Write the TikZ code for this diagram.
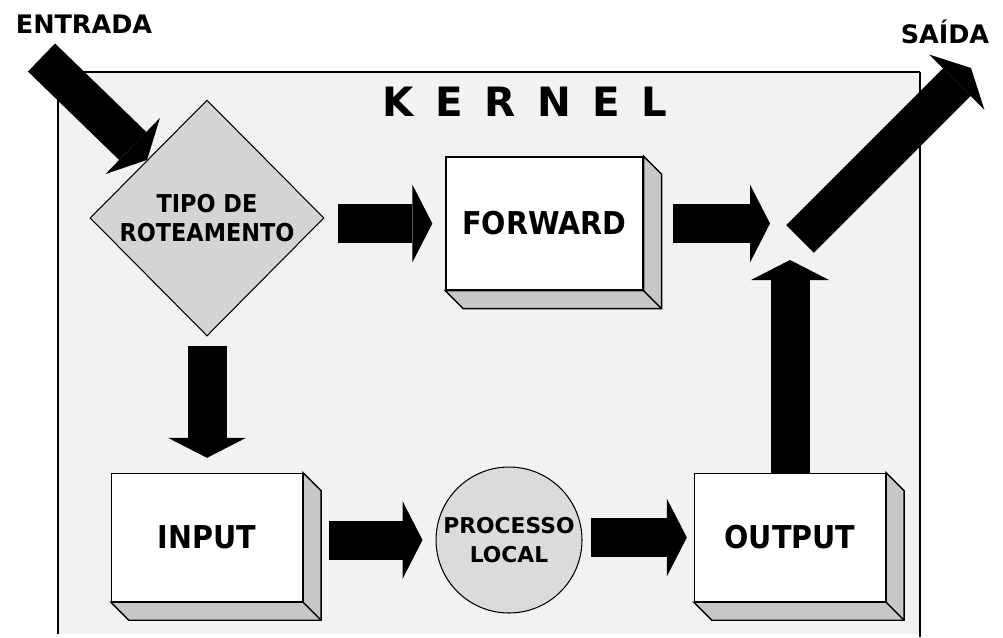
\documentclass[tikz,border=0pt]{standalone}
\usepackage{fontspec}
\setmainfont{DejaVu Sans}
\newfontfamily\estreita[FakeStretch=0.91]{DejaVu Sans}
\usetikzlibrary{shapes.geometric,arrows.meta}
\definecolor{fundo}{gray}{0.95}
\definecolor{losango}{gray}{0.83}
\definecolor{cinzalado}{gray}{0.78}
\definecolor{circulo}{gray}{0.86}
\tikzset{
  seta/.style={line width=0.78cm,-{Triangle[length=0.4cm,width=1.56cm,line width=0pt]}},
  caixa/.style={draw,line width=0.8pt,fill=white,minimum width=3.82cm,minimum height=2.56cm,
    font=\estreita\fontsize{17.9}{21}\selectfont\bfseries},
  face/.style={draw,line width=0.8pt,fill=cinzalado},
  rotulo/.style={font=\fontsize{14.5}{17}\selectfont\bfseries}
}
\begin{document}
\begin{tikzpicture}[x=0.02cm,y=-0.02cm]
\useasboundingbox (0,0) rectangle (1003,637);
% moldura do kernel
\fill[fundo] (58,72) rectangle (920,634);
\draw[line width=1pt] (58,634) -- (58,72) -- (920,72);
\draw[line width=1.4pt] (920,72) -- (920,637);
\node[font=\fontsize{23}{28}\selectfont\bfseries] (kernel) at (525,102) {\spaceskip=12.2pt K E R N E L};
\node[rotulo] (entradatxt) at (84,24) {ENTRADA};
\node[rotulo] (saidatxt) at (945,32) {SAÍDA};
\node[diamond,draw,fill=losango,line width=0.6pt,minimum width=4.68cm,minimum height=4.72cm,
  inner sep=0pt,align=center,font=\estreita\fontsize{14}{17}\selectfont\bfseries] (tipo) at (207,218) {TIPO DE\\ROTEAMENTO};
\node[caixa,minimum width=3.94cm,minimum height=2.66cm] (fwd) at (544.5,223.5) {FORWARD};
\node[caixa] (inp) at (207,537.5) {INPUT};
\node[caixa] (out) at (790,537.5) {OUTPUT};
\node[circle,draw,fill=circulo,line width=0.6pt,minimum size=2.92cm,inner sep=0pt,align=center,
  font=\fontsize{12.4}{17}\selectfont\bfseries] (proc) at (509,540) {PROCESSO\\LOCAL};
% faces laterais das caixas
\foreach \n in {fwd,inp,out}{
  \filldraw[face] (\n.north east) -- ++(18,18) |- ([shift={(18,18)}]\n.south west)
    -- (\n.south west) -- (\n.south east) -- cycle;
  \draw[line width=0.8pt] (\n.south east) -- ++(18,18);
}
\coordinate (ent) at (41.5,57.5);
\coordinate (cruz) at (794,245);
\coordinate (saida) at (971,68);
\draw[seta] (ent) -- (tipo);
\draw[seta,shorten <=0.26cm,shorten >=0.26cm] (fwd.west -| tipo.east) -- (fwd.west);
\draw[seta,shorten <=0.58cm,shorten >=0.48cm] (fwd.east) -- (fwd.east -| cruz);
\draw[seta,shorten <=0.18cm,shorten >=0.3cm] (tipo.south) -- (inp.north);
\draw[seta,shorten <=0.52cm,shorten >=0.26cm] (inp.east |- proc) -- (proc.west);
\draw[seta,shorten <=0.16cm,shorten >=0.14cm] (out.west -| proc.east) -- (out.west);
\draw[seta,shorten >=0.3cm] (out.north) -- (out.north |- cruz);
\draw[seta,shorten <=0.17cm] (cruz) -- (saida);
\end{tikzpicture}
\end{document}
